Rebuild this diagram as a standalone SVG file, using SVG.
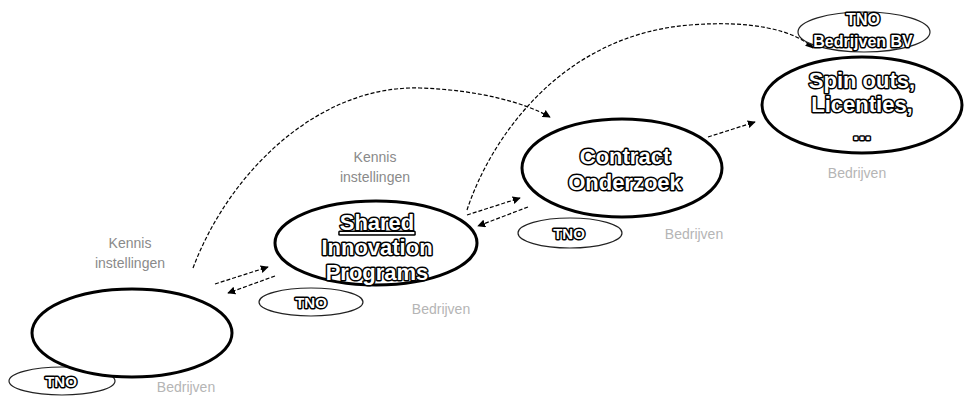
<svg xmlns="http://www.w3.org/2000/svg" width="964" height="403" viewBox="0 0 964 403">
<defs>
<marker id="ah" viewBox="0 0 10 10" refX="9" refY="5" markerWidth="8" markerHeight="8" markerUnits="userSpaceOnUse" orient="auto">
<path d="M0,0 L10,5 L0,10 z" fill="#000"/>
</marker>
<style>
.big{fill:#fff;stroke:#000;stroke-width:3}
.small{fill:#fff;stroke:#222;stroke-width:1.2}
.t{font-family:"Liberation Sans",Arial,sans-serif;font-weight:bold;fill:#fff;stroke:#000;stroke-width:3;paint-order:stroke;stroke-linejoin:round;text-anchor:middle}
.lab{font-family:"Liberation Sans",Arial,sans-serif;fill:#8a8a8a;font-size:14px;text-anchor:middle}
.faint{font-family:"Liberation Sans",Arial,sans-serif;fill:#b5b5b5;font-size:14px;text-anchor:middle}
.c{fill:none;stroke:#000;stroke-width:1.2;stroke-dasharray:4 2;marker-end:url(#ah)}
</style>
</defs>
<rect width="964" height="403" fill="#fff"/>
<g id="connectors">
<path class="c" d="M193,268 C230,170 320,85 420,88 C480,90 525,103 550,117"/>
<path class="c" d="M467,210 C490,140 560,35 690,25 C750,20 795,30 813,48"/>
<path class="c" d="M215,284 L268,267"/>
<path class="c" d="M275,276 L228,293"/>
<path class="c" d="M467,215 L520,198"/>
<path class="c" d="M528,207 L478,226"/>
<path class="c" d="M708,137 L755,122"/>
</g>
<g id="node-tno1">
<ellipse class="small" cx="62" cy="381" rx="53" ry="14"/>
<text class="t" x="61" y="387" font-size="15">TNO</text>
<text class="faint" x="186" y="392">Bedrijven</text>
</g>
<g id="node-fundamenteel">
<ellipse class="big" cx="132" cy="333" rx="100" ry="44"/>
<text class="lab" x="130" y="248">Kennis</text>
<text class="lab" x="130" y="268">instellingen</text>
</g>
<g id="node-sip">
<ellipse class="big" cx="376" cy="243" rx="101" ry="42"/>
<text class="t" x="377" y="230" font-size="22" text-decoration="underline">Shared</text>
<text class="t" x="377" y="255" font-size="22">Innovation</text>
<text class="t" x="377" y="280" font-size="22">Programs</text>
<text class="lab" x="375" y="162">Kennis</text>
<text class="lab" x="375" y="182">instellingen</text>
</g>
<g id="node-tno2">
<ellipse class="small" cx="311" cy="302" rx="52" ry="14"/>
<text class="t" x="311" y="308" font-size="15">TNO</text>
<text class="faint" x="441" y="314">Bedrijven</text>
</g>
<g id="node-contract">
<ellipse class="big" cx="622" cy="168" rx="100" ry="49"/>
<text class="t" x="625" y="164" font-size="22">Contract</text>
<text class="t" x="625" y="190" font-size="22">Onderzoek</text>
</g>
<g id="node-tno3">
<ellipse class="small" cx="570" cy="233" rx="52" ry="15"/>
<text class="t" x="569" y="239" font-size="15">TNO</text>
<text class="faint" x="694" y="239">Bedrijven</text>
</g>
<g id="node-spin">
<ellipse class="big" cx="862" cy="105" rx="100" ry="48"/>
<text class="t" x="862" y="88" font-size="22">Spin outs,</text>
<text class="t" x="862" y="112" font-size="22">Licenties,</text>
<text class="t" x="862" y="140" font-size="22">...</text>
<text class="faint" x="857" y="178">Bedrijven</text>
</g>
<g id="node-tnobv">
<ellipse class="small" cx="864" cy="32" rx="66" ry="20"/>
<text class="t" x="863" y="25" font-size="16">TNO</text>
<text class="t" x="863" y="47" font-size="16">Bedrijven BV</text>
</g>
</svg>
